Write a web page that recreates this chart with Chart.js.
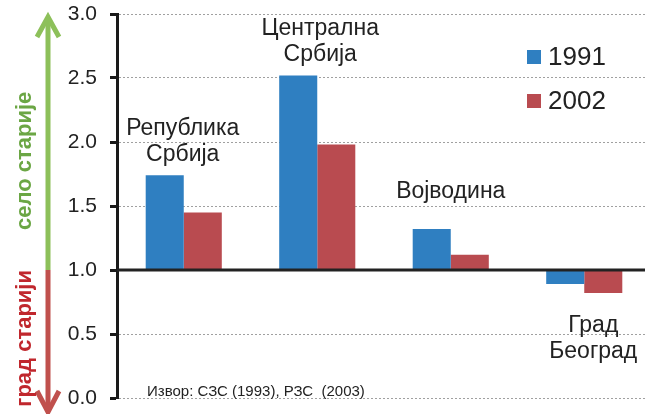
<!DOCTYPE html>
<html><head><meta charset="utf-8">
<script src="https://cdn.jsdelivr.net/npm/chart.js@4"></script>
<style>html,body{margin:0;padding:0;background:#fff;overflow:hidden;width:645px;height:414px}
#wrap{position:relative;width:652px;height:414px}</style>
</head><body><div id="wrap"><canvas id="c" width="652" height="414"></canvas></div>
<script>
const categories = [["Република","Србија"],["Централна","Србија"],["Војводина"],["Град","Београд"]];
const seriesNames = ["1991","2002"];
const values1991 = [1.74,2.52,1.32,0.89];
const values2002 = [1.45,1.98,1.12,0.82];
const baseline = 1.0;
const yTicks = [0,0.5,1,1.5,2,2.5,3];
const sourceText = "Извор: СЗС (1993), РЗС  (2003)";
const upLabel = "село старије";
const downLabel = "град старији";

const FONT = "'Liberation Sans', Arial, sans-serif";
const colors = ["#2F7FC1","#B94B50"];

const decorPlugin = {
  id:'decor',
  afterDatasetsDraw(chart){
    const ctx = chart.ctx, y = chart.scales.y, ca = chart.chartArea;
    const by = y.getPixelForValue(baseline);
    ctx.save();
    ctx.strokeStyle = '#222'; ctx.lineWidth = 3;
    ctx.beginPath(); ctx.moveTo(ca.left, by); ctx.lineTo(ca.right, by); ctx.stroke();
    ctx.restore();
  },
  afterDraw(chart){
    const ctx = chart.ctx, y = chart.scales.y, x = chart.scales.x;
    ctx.save();
    // category labels
    ctx.fillStyle = '#222';
    ctx.font = `23px ${FONT}`;
    ctx.textAlign = 'center'; ctx.textBaseline = 'middle';
    const lh = 26;
    categories.forEach((lines,i)=>{
      const cx = x.getPixelForValue(i);
      const hi = Math.max(values1991[i], values2002[i]);
      const lo = Math.min(values1991[i], values2002[i]);
      if (lo < baseline) {
        const top = y.getPixelForValue(lo) + 33;
        lines.forEach((t,k)=>ctx.fillText(t, cx + 9, top + k*lh));
      } else {
        const dx = [-1, 3, 0, 0][i];
        const gap = lines.length > 1 ? 21 : 37;
        const last = y.getPixelForValue(hi) - gap;
        lines.forEach((t,k)=>ctx.fillText(t, cx + dx, last - (lines.length-1-k)*lh));
      }
    });
    // legend
    ctx.textAlign = 'left';
    ctx.font = `26px ${FONT}`;
    chart.data.datasets.forEach((ds,i)=>{
      const ly = 57 + i*44;
      ctx.fillStyle = ds.backgroundColor;
      ctx.fillRect(527, ly-7, 14, 14);
      ctx.fillStyle = '#222';
      ctx.fillText(ds.label, 548, ly+1);
    });
    // source
    ctx.font = `15px ${FONT}`;
    ctx.fillText(sourceText, 147, 392);
    // arrows
    const ax = 48;
    const y1 = y.getPixelForValue(baseline);
    const yTop = y.getPixelForValue(3) + 3;
    const yBot = y.getPixelForValue(0) + 14;
    ctx.lineWidth = 5; ctx.lineCap = 'butt'; ctx.lineJoin = 'miter';
    ctx.strokeStyle = '#8DC05A';
    ctx.beginPath(); ctx.moveTo(ax, y1); ctx.lineTo(ax, yTop+2); ctx.stroke();
    ctx.beginPath(); ctx.moveTo(ax-11, yTop+20); ctx.lineTo(ax, yTop); ctx.lineTo(ax+11, yTop+20); ctx.stroke();
    ctx.strokeStyle = '#C0504D';
    ctx.beginPath(); ctx.moveTo(ax, y1); ctx.lineTo(ax, yBot-2); ctx.stroke();
    ctx.beginPath(); ctx.moveTo(ax-11, yBot-21); ctx.lineTo(ax, yBot); ctx.lineTo(ax+11, yBot-21); ctx.stroke();
    // rotated labels
    ctx.font = `bold 22px ${FONT}`;
    ctx.textBaseline = 'middle';
    ctx.save(); ctx.translate(25, 230); ctx.rotate(-Math.PI/2);
    ctx.textAlign = 'left';
    ctx.fillStyle = '#6BA644'; ctx.fillText(upLabel, 0, 0); ctx.restore();
    ctx.save(); ctx.translate(25, 270); ctx.rotate(-Math.PI/2);
    ctx.textAlign = 'right';
    ctx.fillStyle = '#C0272D'; ctx.fillText(downLabel, 0, 0); ctx.restore();
    ctx.restore();
  }
};

new Chart(document.getElementById('c'), {
  type:'bar',
  data:{
    labels: categories.map(c=>c.join(' ')),
    datasets:[
      {label:seriesNames[0], data: values1991.map(v=>[baseline, v]), backgroundColor:colors[0], borderSkipped:false},
      {label:seriesNames[1], data: values2002.map(v=>[baseline, v]), backgroundColor:colors[1], borderSkipped:false}
    ]
  },
  options:{
    responsive:false, animation:false, devicePixelRatio:1,
    layout:{padding:{top:14,bottom:16,left:0,right:1}},
    datasets:{bar:{categoryPercentage:0.57, barPercentage:1}},
    plugins:{legend:{display:false}, tooltip:{enabled:false}},
    scales:{
      x:{display:false},
      y:{
        min:0, max:3,
        afterFit(s){ s.width = 117; s.paddingTop = 0; s.paddingBottom = 0; },
        afterBuildTicks(s){ s.ticks = yTicks.map(v=>({value:v})); },
        ticks:{callback:v=>Number(v).toFixed(1), font:{family:FONT, size:21}, color:'#222', padding:13},
        grid:{color:'#a0a0a0', lineWidth:1, tickColor:'#1a1a1a', tickWidth:3, tickLength:7, tickBorderDash:[]},
        border:{display:true, color:'#1a1a1a', width:3, dash:[2,2]}
      }
    }
  },
  plugins:[decorPlugin]
});
</script></body></html>
